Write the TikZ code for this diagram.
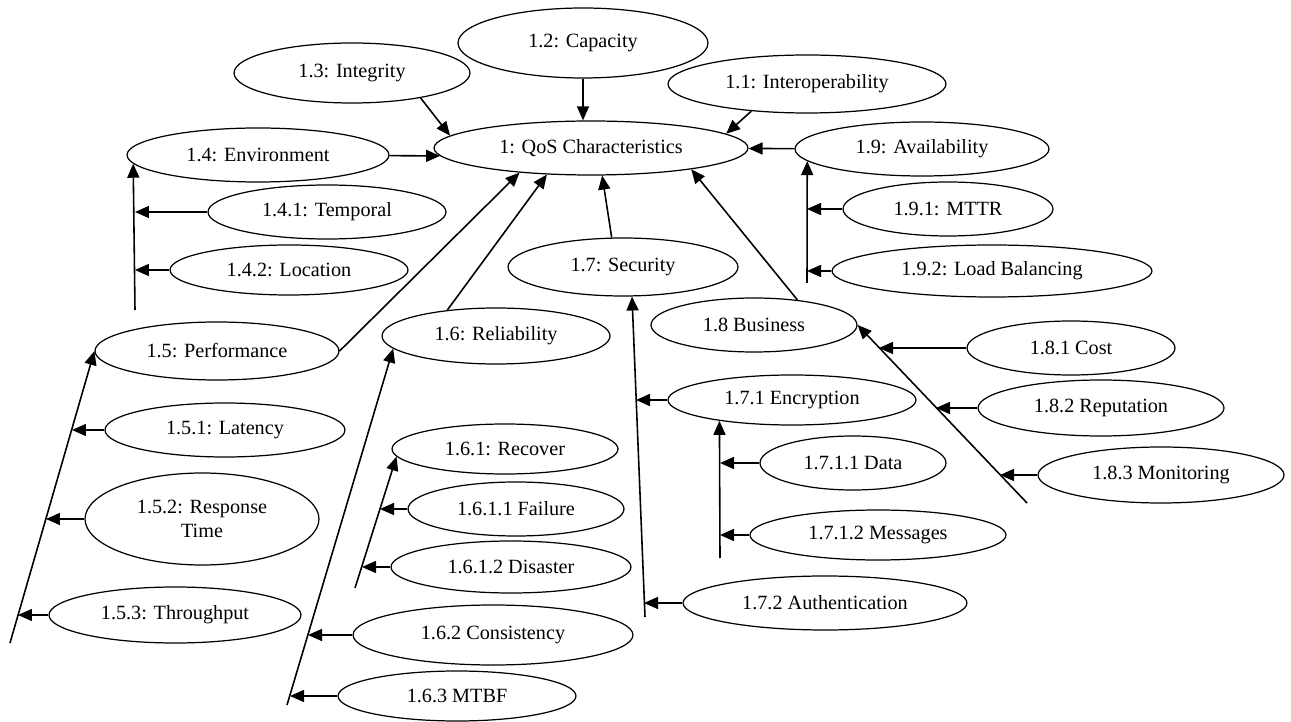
\documentclass[tikz,border=0pt]{standalone}
\usepackage{fontspec}
\setmainfont{Liberation Serif}
\usepackage{tikz}
\usetikzlibrary{shapes.geometric, arrows.meta, positioning}

\begin{document}
\begin{tikzpicture}[
        x=0.02cm, y=-0.02cm,
        oval/.style 2 args={ellipse, draw, line width=0.7pt, inner sep=0pt, align=center,
            minimum width=#1, minimum height=#2, font=\fontsize{11.5}{14}\selectfont},
        arrow/.style={-{Triangle[length=0.28cm, width=0.24cm]}, line width=0.9pt}
    ]
        \useasboundingbox (0,0) rectangle (1291,722);

        % Nodes
        \node[oval={6.28cm}{1.08cm}] (qos) at (591,148) {1: QoS Characteristics};
        \node[oval={5.00cm}{1.40cm}] (cap) at (583,43) {1.2: Capacity};
        \node[oval={4.72cm}{1.20cm}] (integ) at (352,73) {1.3: Integrity};
        \node[oval={5.56cm}{1.16cm}] (interop) at (807,84) {1.1: Interoperability};
        \node[oval={5.24cm}{1.08cm}] (env) at (258,155) {1.4: Environment};
        \node[oval={4.76cm}{1.08cm}] (temp) at (327,212) {1.4.1: Temporal};
        \node[oval={4.76cm}{1.00cm}] (loc) at (289,270) {1.4.2: Location};
        \node[oval={5.08cm}{1.08cm}] (avail) at (922,149) {1.9: Availability};
        \node[oval={4.20cm}{1.08cm}] (mttr) at (948,209) {1.9.1: MTTR};
        \node[oval={6.40cm}{1.04cm}] (lb) at (992,271) {1.9.2: Load Balancing};
        \node[oval={4.60cm}{1.16cm}] (sec) at (623,267) {1.7: Security};
        \node[oval={4.12cm}{1.08cm}] (bus) at (754,325) {1.8 Business};
        \node[oval={4.88cm}{1.16cm}] (perf) at (217,351) {1.5: Performance};
        \node[oval={4.56cm}{1.12cm}] (rel) at (496,336) {1.6: Reliability};
        \node[oval={4.80cm}{1.08cm}] (lat) at (225,430) {1.5.1: Latency};
        \node[oval={4.68cm}{1.84cm}] (resp) at (202,519) {1.5.2: Response\\Time};
        \node[oval={5.04cm}{1.12cm}] (thr) at (175,615) {1.5.3: Throughput};
        \node[oval={4.52cm}{1.00cm}] (rec) at (505,449) {1.6.1: Recover};
        \node[oval={4.32cm}{1.08cm}] (fail) at (516,509) {1.6.1.1 Failure};
        \node[oval={4.80cm}{1.04cm}] (dis) at (511,567) {1.6.1.2 Disaster};
        \node[oval={5.60cm}{1.20cm}] (cons) at (493,635) {1.6.2 Consistency};
        \node[oval={4.76cm}{1.00cm}] (mtbf) at (457,696) {1.6.3 MTBF};
        \node[oval={4.96cm}{1.00cm}] (enc) at (792,400) {1.7.1 Encryption};
        \node[oval={3.72cm}{1.08cm}] (data) at (853,463) {1.7.1.1 Data};
        \node[oval={5.12cm}{1.00cm}] (msg) at (878,535) {1.7.1.2 Messages};
        \node[oval={5.68cm}{1.08cm}] (auth) at (825,603) {1.7.2 Authentication};
        \node[oval={4.16cm}{1.08cm}] (cost) at (1071,348) {1.8.1 Cost};
        \node[oval={4.92cm}{1.12cm}] (rep) at (1101,408) {1.8.2 Reputation};
        \node[oval={4.92cm}{1.12cm}] (mon) at (1161,475) {1.8.3 Monitoring};

        % Spine feet and branch points
        \coordinate (envfoot) at (135,310);
        \coordinate (avfoot) at (807,283);
        \coordinate (perffoot) at (10,643);
        \coordinate (latin) at (72,430);
        \coordinate (respin) at (46,519);
        \coordinate (thrin) at (18,615);
        \coordinate (relfoot) at (287,705);
        \coordinate (consin) at (308,635);
        \coordinate (mtbfin) at (290,696);
        \coordinate (recfoot) at (355,588);
        \coordinate (failin) at (380,509);
        \coordinate (disin) at (362,567);
        \coordinate (secfoot) at (645,617);
        \coordinate (encin) at (636,400);
        \coordinate (authin) at (644,603);
        \coordinate (encfoot) at (720,558);
        \coordinate (busfoot) at (1027,503);
        \coordinate (costin) at (879,348);
        \coordinate (repin) at (936,408);
        \coordinate (monin) at (1000,475);

        % Arrows into the root
        \draw[arrow] (cap) -- (cap |- qos.north);
        \draw[arrow] (integ.340) -- (qos.175);
        \draw[arrow] (interop.206) -- (qos.6);
        \draw[arrow] (env) -- (qos.183);
        \draw[arrow] (avail) -- (qos);
        \draw[arrow] (perf.east) -- (qos.199);
        \draw[arrow] (rel.152) -- (qos.211);
        \draw[arrow] (sec.111) -- (qos.292);
        \draw[arrow] (bus.30) -- (qos.348);

        % Environment
        \draw[arrow] (envfoot) -- (env.184);
        \draw[arrow] (temp) -- (temp -| envfoot);
        \draw[arrow] (loc) -- (loc -| envfoot);

        % Availability
        \draw[arrow] (avfoot) -- (avail.186);
        \draw[arrow] (mttr) -- (mttr -| avfoot);
        \draw[arrow] (lb) -- (lb -| avfoot);

        % Performance
        \draw[arrow] (perffoot) -- (perf.west);
        \draw[arrow] (lat) -- (latin);
        \draw[arrow] (resp) -- (respin);
        \draw[arrow] (thr) -- (thrin);

        % Reliability
        \draw[arrow] (relfoot) -- (rel.187);
        \draw[arrow] (cons) -- (consin);
        \draw[arrow] (mtbf) -- (mtbfin);
        \draw[arrow] (recfoot) -- (rec.184);
        \draw[arrow] (fail) -- (failin);
        \draw[arrow] (dis) -- (disin);

        % Security
        \draw[arrow] (secfoot) -- (sec.287);
        \draw[arrow] (enc) -- (encin);
        \draw[arrow] (auth) -- (authin);
        \draw[arrow] (encfoot) -- (enc.196);
        \draw[arrow] (data) -- (data -| encfoot);
        \draw[arrow] (msg) -- (msg -| encfoot);

        % Business
        \draw[arrow] (busfoot) -- (bus.east);
        \draw[arrow] (cost) -- (costin);
        \draw[arrow] (rep) -- (repin);
        \draw[arrow] (mon) -- (monin);
    \end{tikzpicture}
\end{document}
